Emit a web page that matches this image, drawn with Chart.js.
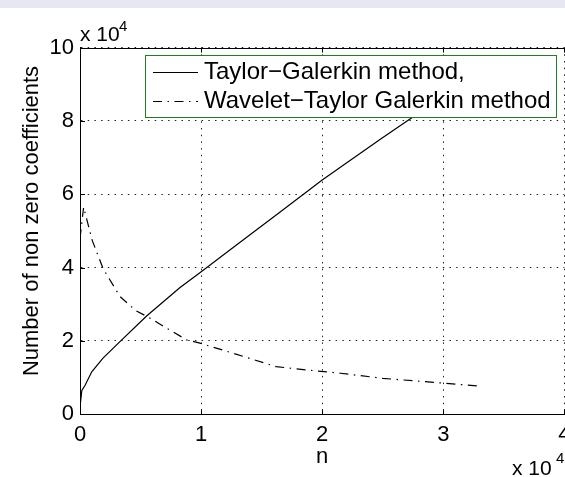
<!DOCTYPE html>
<html>
<head>
<meta charset="utf-8">
<script src="https://cdn.jsdelivr.net/npm/chart.js@4.4.1/dist/chart.umd.min.js"></script>
<style>
  html, body { margin: 0; padding: 0; background: #fff; }
  #wrap { position: relative; width: 565px; height: 477px; overflow: hidden; }
  #band { position: absolute; left: 0; top: 0; width: 565px; height: 8px; background: #e7e7f1; }
  canvas { position: absolute; left: 0; top: 0; }
</style>
</head>
<body>
<div id="wrap">
  <canvas id="graph" width="565" height="477"></canvas>
  <div id="band"></div>
</div>
<script>
// n и число ненулевых коэффициентов для двух методов
const taylorN = [0, 150, 400, 970, 1900, 3300, 5500, 8260, 9900, 13000, 16500, 20000, 24800, 27400, 33000];
const taylorNnz = [2000, 6500, 7800, 11600, 15300, 19800, 26800, 34600, 38600, 46400, 55100, 63900, 75000, 80900, 93500];
const waveletN = [0, 300, 1000, 1900, 3300, 4600, 5800, 7400, 8800, 9900, 12500, 16200, 18700, 21500, 25000, 30000, 32900];
const waveletNnz = [48000, 56500, 47500, 39800, 32100, 28300, 26200, 23000, 20300, 19400, 16800, 13000, 12100, 11200, 9800, 8500, 7700];
const seriesNames = ['Taylor\u2212Galerkin method,', 'Wavelet\u2212Taylor Galerkin method'];
const xTicks = [0, 10000, 20000, 30000, 40000];
const yTicks = [0, 20000, 40000, 60000, 80000, 100000];

const FONT = '"Liberation Sans", Arial, sans-serif';

let toPoints = function (xs, ys) {
  return xs.map(function (x, i) { return { x: x, y: ys[i] }; });
};

// рамка, внутренние засечки, легенда и множители x 10^4
let decor = {
  id: 'decor',
  afterDatasetsDraw: function (chart) {
    let ctx = chart.ctx;
    let a = chart.chartArea;
    let sx = chart.scales.x;
    let sy = chart.scales.y;
    ctx.save();
    ctx.strokeStyle = '#000';
    ctx.lineWidth = 1;
    ctx.setLineDash([]);
    ctx.beginPath();
    ctx.moveTo(a.left, Math.round(a.top) + 0.5);
    ctx.lineTo(a.right, Math.round(a.top) + 0.5);
    sx.ticks.forEach(function (t) {
      let px = Math.round(sx.getPixelForValue(t.value)) + 0.5;
      ctx.moveTo(px, a.bottom); ctx.lineTo(px, a.bottom - 5);
      ctx.moveTo(px, a.top); ctx.lineTo(px, a.top + 5);
    });
    sy.ticks.forEach(function (t) {
      let py = Math.round(sy.getPixelForValue(t.value)) + 0.5;
      ctx.moveTo(a.left, py); ctx.lineTo(a.left + 5, py);
    });
    ctx.stroke();

    // легенда
    let box = { x: 145.5, y: 55.5, w: 411, h: 62 };
    ctx.fillStyle = '#fff';
    ctx.fillRect(box.x, box.y, box.w, box.h);
    ctx.strokeStyle = '#1f7f1f';
    ctx.strokeRect(box.x, box.y, box.w, box.h);
    ctx.font = '24px ' + FONT;
    ctx.textBaseline = 'middle';
    ctx.textAlign = 'left';
    chart.data.datasets.forEach(function (ds, i) {
      let y = 72.5 + i * 29;
      ctx.strokeStyle = '#000';
      ctx.lineWidth = ds.borderWidth;
      ctx.setLineDash(ds.borderDash || []);
      ctx.beginPath();
      ctx.moveTo(153, y); ctx.lineTo(198, y);
      ctx.stroke();
      ctx.fillStyle = '#000';
      ctx.fillText(ds.label, 204, y);
    });
    ctx.setLineDash([]);

    // подпись оси y
    ctx.save();
    ctx.translate(32, 221);
    ctx.rotate(-Math.PI / 2);
    ctx.textAlign = 'center';
    ctx.font = '22px ' + FONT;
    ctx.fillText('Number of non zero coefficients', 0, 0);
    ctx.restore();

    // множители
    ctx.textBaseline = 'alphabetic';
    ctx.textAlign = 'left';
    ctx.font = '21px ' + FONT;
    ctx.fillText('x 10', 80, 41);
    ctx.fillText('x 10', 512, 475);
    ctx.font = '15px ' + FONT;
    ctx.fillText('4', 119, 31);
    ctx.fillText('4', 556, 463);
    ctx.restore();
  }
};

let chart = new Chart(document.getElementById('graph').getContext('2d'), {
  type: 'scatter',
  data: {
    datasets: [{
      label: seriesNames[0],
      data: toPoints(taylorN, taylorNnz),
      showLine: true,
      borderColor: '#000',
      borderWidth: 1.2,
      pointRadius: 0,
      tension: 0
    }, {
      label: seriesNames[1],
      data: toPoints(waveletN, waveletNnz),
      showLine: true,
      borderColor: '#000',
      borderWidth: 1.2,
      borderDash: [9, 5.5, 1.5, 5.5],
      pointRadius: 0,
      tension: 0
    }]
  },
  options: {
    responsive: false,
    animation: false,
    devicePixelRatio: 1,
    layout: { padding: { top: 47.6, left: 0, right: 0.6, bottom: 0 } },
    plugins: { legend: { display: false }, tooltip: { enabled: false } },
    scales: {
      x: {
        type: 'linear',
        min: 0,
        max: 40000,
        afterBuildTicks: function (s) { s.ticks = xTicks.map(function (v) { return { value: v }; }); },
        afterFit: function (s) { s.height = 477 - 414.3; s.paddingLeft = 0; s.paddingRight = 0; },
        ticks: {
          color: '#000',
          padding: 7,
          maxRotation: 0,
          font: { family: FONT, size: 22 },
          callback: function (v) { return v / 10000; }
        },
        grid: { color: '#222', lineWidth: 1, drawTicks: false },
        border: { color: '#000', width: 1, dash: [1.5, 5.2] },
        title: {
          display: true,
          text: 'n',
          color: '#000',
          font: { family: FONT, size: 22 },
          padding: { top: 0, bottom: 7 }
        }
      },
      y: {
        type: 'linear',
        min: 0,
        max: 100000,
        afterBuildTicks: function (s) { s.ticks = yTicks.map(function (v) { return { value: v }; }); },
        afterFit: function (s) { s.width = 80; s.paddingTop = 0; s.paddingBottom = 0; },
        ticks: {
          color: '#000',
          padding: 6,
          font: { family: FONT, size: 22 },
          callback: function (v) { return v / 10000; }
        },
        grid: { color: '#222', lineWidth: 1, drawTicks: false },
        border: { color: '#000', width: 1, dash: [1.5, 5.2] }
      }
    }
  },
  plugins: [decor]
});
</script>
</body>
</html>
